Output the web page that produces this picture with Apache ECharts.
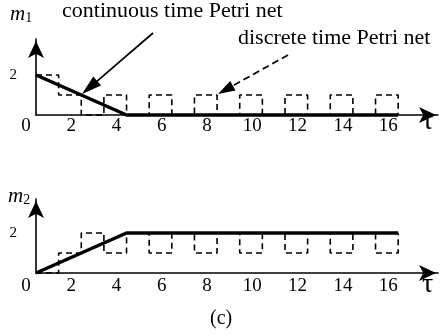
<!DOCTYPE html>
<html>
<head>
<meta charset="utf-8">
<script src="https://cdn.jsdelivr.net/npm/echarts@6/dist/echarts.min.js"></script>
<style>html,body{margin:0;padding:0;background:#fff}#c{width:445px;height:336px}</style>
</head>
<body>
<div id="c"></div>
<script>
// Data
var xTicks = [0, 2, 4, 6, 8, 10, 12, 14, 16];
var m1Continuous = [[0, 2], [4, 0], [16, 0]];
var m1DiscreteX = [0, 1, 2, 3, 4, 5, 6, 7, 8, 9, 10, 11, 12, 13, 14, 15, 16];
var m1DiscreteY = [2, 1, 0, 1, 0, 1, 0, 1, 0, 1, 0, 1, 0, 1, 0, 1, 0];
var m2Continuous = [[0, 0], [4, 2], [16, 2]];
var m2DiscreteX = [0, 1, 2, 3, 4, 5, 6, 7, 8, 9, 10, 11, 12, 13, 14, 15, 16];
var m2DiscreteY = [0, 1, 2, 1, 2, 1, 2, 1, 2, 1, 2, 1, 2, 1, 2, 1, 2];
var yTickShown = [2];

var FONT = 'Liberation Serif';
function zip(xs, ys) { return xs.map(function (x, i) { return [x, ys[i]]; }); }

var chart = echarts.init(document.getElementById('c'));

function xAxisCfg(idx) {
  return {
    type: 'value', gridIndex: idx, min: 0, max: 17.76, interval: 2,
    axisLine: { show: true, lineStyle: { color: '#000', width: 1.6 }, symbol: ['none', 'arrow'], symbolSize: [12, 17], symbolOffset: [0, -2] },
    axisTick: { show: false },
    splitLine: { show: false },
    axisLabel: {
      show: true, color: '#000', fontFamily: FONT, fontSize: 19, margin: idx === 0 ? 2 : 4,
      padding: [0, 20, 0, 0], showMaxLabel: false,
      formatter: function (v) { return xTicks.indexOf(v) >= 0 ? String(v) : ''; }
    }
  };
}
function yAxisCfg(idx, max) {
  return {
    type: 'value', gridIndex: idx, min: 0, max: max, interval: 1,
    axisLine: { show: true, lineStyle: { color: '#000', width: 1.6 }, symbol: ['none', 'arrow'], symbolSize: [12, 17], symbolOffset: [0, -2] },
    axisTick: { show: false },
    splitLine: { show: false },
    axisLabel: {
      show: true, color: '#000', fontFamily: FONT, fontSize: 15, margin: 19, showMaxLabel: false,
      formatter: function (v) { return yTickShown.indexOf(v) >= 0 ? String(v) : ''; }
    }
  };
}

function arrowGraphics(tail, tip, dashed, L, W) {
  var dx = tip[0] - tail[0], dy = tip[1] - tail[1];
  var len = Math.sqrt(dx * dx + dy * dy);
  var ux = dx / len, uy = dy / len;
  var nx = -uy, ny = ux;
  var bx = tip[0] - L * ux, by = tip[1] - L * uy;
  return [
    { type: 'line', shape: { x1: tail[0], y1: tail[1], x2: bx + 2 * ux, y2: by + 2 * uy },
      style: { stroke: '#000', lineWidth: 1.7, lineDash: dashed ? [7, 4] : null } },
    { type: 'polygon', shape: { points: [[tip[0], tip[1]], [bx + nx * W / 2, by + ny * W / 2], [bx - nx * W / 2, by - ny * W / 2]] },
      style: { fill: '#000' } }
  ];
}

var graphics = [
  { type: 'text', left: 10, top: 4, style: { text: '{m|m}{s|1}', rich: { m: { fontFamily: FONT, fontStyle: 'italic', fontSize: 21, fill: '#000' }, s: { fontFamily: FONT, fontSize: 14, fill: '#000', padding: [8, 0, 0, 0] } } } },
  { type: 'text', left: 8, top: 186, style: { text: '{m|m}{s|2}', rich: { m: { fontFamily: FONT, fontStyle: 'italic', fontSize: 21, fill: '#000' }, s: { fontFamily: FONT, fontSize: 14, fill: '#000', padding: [8, 0, 0, 0] } } } },
  { type: 'text', left: 62, top: 0, style: { text: 'continuous time Petri net', font: '22px "Liberation Serif"', fill: '#000' } },
  { type: 'text', left: 238, top: 27, style: { text: 'discrete time Petri net', font: '22px "Liberation Serif"', fill: '#000' } },
  { type: 'text', left: 422, top: 108, style: { text: 'τ', font: '28px "Liberation Serif"', fill: '#000' } },
  { type: 'text', left: 422, top: 271, style: { text: 'τ', font: '28px "Liberation Serif"', fill: '#000' } },
  { type: 'text', left: 210, top: 309, style: { text: '(c)', font: '20px "Liberation Serif"', fill: '#000' } }
].concat(arrowGraphics([153, 33], [82, 94], false, 20, 12))
 .concat(arrowGraphics([288, 55], [218, 94], true, 17, 11));

chart.setOption({
  animation: false,
  backgroundColor: '#fff',
  grid: [
    { left: 36, top: 39, width: 402, height: 76 },
    { left: 36, top: 199, width: 402, height: 74 }
  ],
  xAxis: [xAxisCfg(0), xAxisCfg(1)],
  yAxis: [yAxisCfg(0, 3.8), yAxisCfg(1, 3.7)],
  series: [
    { type: 'line', xAxisIndex: 0, yAxisIndex: 0, data: zip(m1DiscreteX, m1DiscreteY), step: 'end', symbol: 'none', clip: false,
      lineStyle: { color: '#000', width: 1.6, type: [6, 4] }, z: 2 },
    { type: 'line', xAxisIndex: 0, yAxisIndex: 0, data: m1Continuous, symbol: 'none', clip: false,
      lineStyle: { color: '#000', width: 3.5 }, z: 3 },
    { type: 'line', xAxisIndex: 1, yAxisIndex: 1, data: zip(m2DiscreteX, m2DiscreteY), step: 'end', symbol: 'none', clip: false,
      lineStyle: { color: '#000', width: 1.6, type: [6, 4] }, z: 2 },
    { type: 'line', xAxisIndex: 1, yAxisIndex: 1, data: m2Continuous, symbol: 'none', clip: false,
      lineStyle: { color: '#000', width: 3.5 }, z: 3 }
  ],
  graphic: graphics
});
</script>
</body>
</html>
